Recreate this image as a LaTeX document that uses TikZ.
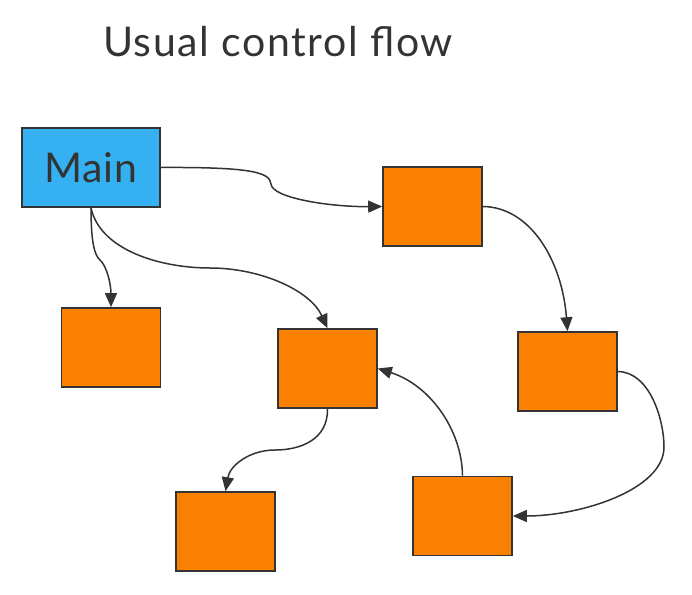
\documentclass[tikz,border=0pt]{standalone}
\usepackage{fontspec}
\setmainfont{Lato}
\usepackage{tikz}
\usetikzlibrary{arrows.meta,positioning}

\definecolor{mainblue}{HTML}{35B1F2}
\definecolor{taskorange}{HTML}{F98000}
\definecolor{inkgray}{HTML}{333333}

\begin{document}
\begin{tikzpicture}[x=1pt,y=-1pt,
  >={Triangle[length=14pt,width=12pt]},
  box/.style={draw=inkgray,line width=1.6pt,minimum width=99pt,minimum height=79pt,inner sep=0pt},
  task/.style={box,fill=taskorange},
  flow/.style={->,draw=inkgray,line width=1.5pt}]

%% canvas
\useasboundingbox (0,0) rectangle (692,594);

%% title
\node[text=inkgray,font=\fontsize{41}{48}\selectfont\addfontfeature{LetterSpace=4}] (title) at (278,42) {Usual control flow};

%% boxes
\node[box,fill=mainblue,minimum width=138pt,text=inkgray,font=\fontsize{41}{48}\selectfont\addfontfeature{LetterSpace=2}] (main) at (91,167.5) {Main};
\node[task] (t1) at (432.5,206.5) {};
\node[task] (t2) at (111,347.5) {};
\node[task] (t3) at (327.5,368.5) {};
\node[task] (t4) at (567.5,371.5) {};
\node[task] (t5) at (225.5,531.5) {};
\node[task] (t6) at (462.5,516) {};

%% calls
\draw[flow] (main.east) .. controls (250,167) and (270,172) .. (271,184)
  .. controls (272,198) and (330,207) .. (t1.west);
\draw[flow] (main.south) .. controls (91,240) and (94,255) .. (100,260)
  .. controls (107,266) and (111,285) .. (t2.north);
\draw[flow] (main.south) .. controls (100,250) and (160,268) .. (210,268)
  .. controls (260,268) and (310,290) .. (t3.north);
\draw[flow] (t1.east) .. controls (530,207) and (562,260) .. (t4.north);
\draw[flow] (t4.east) .. controls (650,372) and (664,420) .. (664,447)
  .. controls (664,490) and (580,516) .. (t6.east);
\draw[flow] (t6.north) .. controls (462,430) and (430,385) .. (t3.east);
\draw[flow] (t3.south) .. controls (328,440) and (300,450) .. (275,450)
  .. controls (250,450) and (230,465) .. (t5.north);

\end{tikzpicture}
\end{document}
